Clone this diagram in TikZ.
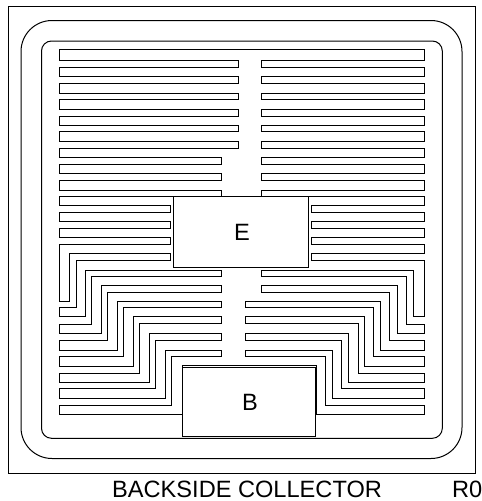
\documentclass[tikz,border=0pt]{standalone}
\usepackage{fontspec}
\setmainfont{Liberation Sans}
\tikzset{
  metal/.style={draw, line width=1pt, line join=miter},
  padbox/.style={draw, rectangle, line width=1pt, inner sep=0pt, execute at begin node=\hspace*{2pt}, font=\fontsize{23.6}{24}\selectfont},
  caption/.style={anchor=base west, inner sep=0pt, font=\fontsize{23.6}{24}\selectfont}
}
\begin{document}
\begin{tikzpicture}[x=1pt,y=-1pt]
\useasboundingbox (0,0) rectangle (482,501);
\draw[metal] (8,6) rectangle (475,473);
\draw[metal, rounded corners=31pt] (21,20.5) rectangle (462,458.5);
\draw[metal, rounded corners=10pt] (41.5,41) rectangle (442.3,438.3);
\draw[metal] (59.3,49.3) -- (424.7,49.3) -- (424.7,60.3) -- (261.3,60.3) -- (261.3,67) -- (424.7,67)
  -- (424.7,76.7) -- (261.3,76.7) -- (261.3,83.3) -- (424.7,83.3)
  -- (424.7,93) -- (261.3,93) -- (261.3,99.3) -- (424.7,99.3)
  -- (424.7,109) -- (261.3,109) -- (261.3,116) -- (424.7,116)
  -- (424.7,125.3) -- (261.3,125.3) -- (261.3,131.7) -- (424.7,131.7)
  -- (424.7,141.3) -- (261.3,141.3) -- (261.3,148) -- (424.7,148)
  -- (424.7,157.3) -- (261.3,157.3) -- (261.3,164) -- (424.7,164)
  -- (424.7,173.7) -- (261.3,173.7) -- (261.3,180.3) -- (424.7,180.3)
  -- (424.7,190) -- (261.3,190) -- (261.3,196.7) -- (424.7,196.7)
  -- (424.7,205.7) -- (311.3,205.7) -- (311.3,212) -- (424.7,212)
  -- (424.7,221.7) -- (311.3,221.7) -- (311.3,228.3) -- (424.7,228.3)
  -- (424.7,237.7) -- (311.3,237.7) -- (311.3,244.3) -- (424.7,244.3)
  -- (424.7,253.3) -- (311.3,253.3) -- (311.3,260.3) -- (424.7,260.3)
  -- (424.7,316.7) -- (413.7,316.7) -- (413.7,270) -- (261.3,270) -- (261.3,276) -- (406,276) -- (406,324) -- (424.7,324)
  -- (424.7,333.3) -- (397,333.3) -- (397,285.7) -- (261.3,285.7) -- (261.3,292) -- (389.7,292) -- (389.7,340.3) -- (424.7,340.3)
  -- (424.7,350) -- (380.3,350) -- (380.3,301.7) -- (245.3,301.7) -- (245.3,307.3) -- (373.7,307.3) -- (373.7,356.7) -- (424.7,356.7)
  -- (424.7,366.3) -- (364,366.3) -- (364,316.7) -- (245.3,316.7) -- (245.3,323.3) -- (358,323.3) -- (358,373) -- (424.7,373)
  -- (424.7,382.3) -- (348,382.3) -- (348,333.3) -- (245.3,333.3) -- (245.3,340) -- (341.3,340) -- (341.3,388.7) -- (424.7,388.7)
  -- (424.7,398.3) -- (332,398.3) -- (332,350) -- (245.3,350) -- (245.3,356.7) -- (325.3,356.7) -- (325.3,405) -- (424.7,405)
  -- (424.7,414.7) -- (316,414.7) -- (316,365) -- (182,365) -- (182,414.7) -- (59.3,414.7)
  -- (59.3,405) -- (171.7,405) -- (171.7,356.7) -- (221.7,356.7) -- (221.7,350) -- (165,350) -- (165,398.3) -- (59.3,398.3)
  -- (59.3,388.7) -- (155.7,388.7) -- (155.7,340) -- (221.7,340) -- (221.7,333.3) -- (149,333.3) -- (149,382.3) -- (59.3,382.3)
  -- (59.3,373) -- (139.7,373) -- (139.7,323.3) -- (221.7,323.3) -- (221.7,316.7) -- (133.3,316.7) -- (133.3,366.3) -- (59.3,366.3)
  -- (59.3,356.7) -- (123.7,356.7) -- (123.7,307.3) -- (221.7,307.3) -- (221.7,301.7) -- (117,301.7) -- (117,350) -- (59.3,350)
  -- (59.3,340.3) -- (107.7,340.3) -- (107.7,292) -- (221.7,292) -- (221.7,285.7) -- (101.3,285.7) -- (101.3,333.3) -- (59.3,333.3)
  -- (59.3,324) -- (91.7,324) -- (91.7,276) -- (221.7,276) -- (221.7,270) -- (85.7,270) -- (85.7,316.7) -- (59.3,316.7)
  -- (59.3,307.3) -- (76,307.3) -- (76,260.3) -- (170.7,260.3) -- (170.7,253.3) -- (69,253.3) -- (69,301.7) -- (59.3,301.7)
  -- (59.3,244.3) -- (170.7,244.3) -- (170.7,237.7) -- (59.3,237.7)
  -- (59.3,228.3) -- (170.7,228.3) -- (170.7,221.7) -- (59.3,221.7)
  -- (59.3,212) -- (170.7,212) -- (170.7,205.7) -- (59.3,205.7)
  -- (59.3,196.7) -- (221.7,196.7) -- (221.7,190) -- (59.3,190)
  -- (59.3,180.3) -- (221.7,180.3) -- (221.7,173.7) -- (59.3,173.7)
  -- (59.3,164) -- (221.7,164) -- (221.7,157.3) -- (59.3,157.3)
  -- (59.3,148) -- (238.3,148) -- (238.3,141.3) -- (59.3,141.3)
  -- (59.3,131.7) -- (238.3,131.7) -- (238.3,125.3) -- (59.3,125.3)
  -- (59.3,116) -- (238.3,116) -- (238.3,109) -- (59.3,109)
  -- (59.3,99.3) -- (238.3,99.3) -- (238.3,93) -- (59.3,93)
  -- (59.3,83.3) -- (238.3,83.3) -- (238.3,76.7) -- (59.3,76.7)
  -- (59.3,67) -- (238.3,67) -- (238.3,60.3) -- (59.3,60.3) -- cycle;
\node[padbox, minimum width=135.4pt, minimum height=70.6pt] (padE) at (241,232) {E};
\node[padbox, minimum width=132.6pt, minimum height=69.7pt] (padB) at (249,401.9) {B};
\node[caption] (backside) at (112,497) {BACKSIDE COLLECTOR};
\node[caption] (rev) at (452,497) {R0};
\end{tikzpicture}
\end{document}
